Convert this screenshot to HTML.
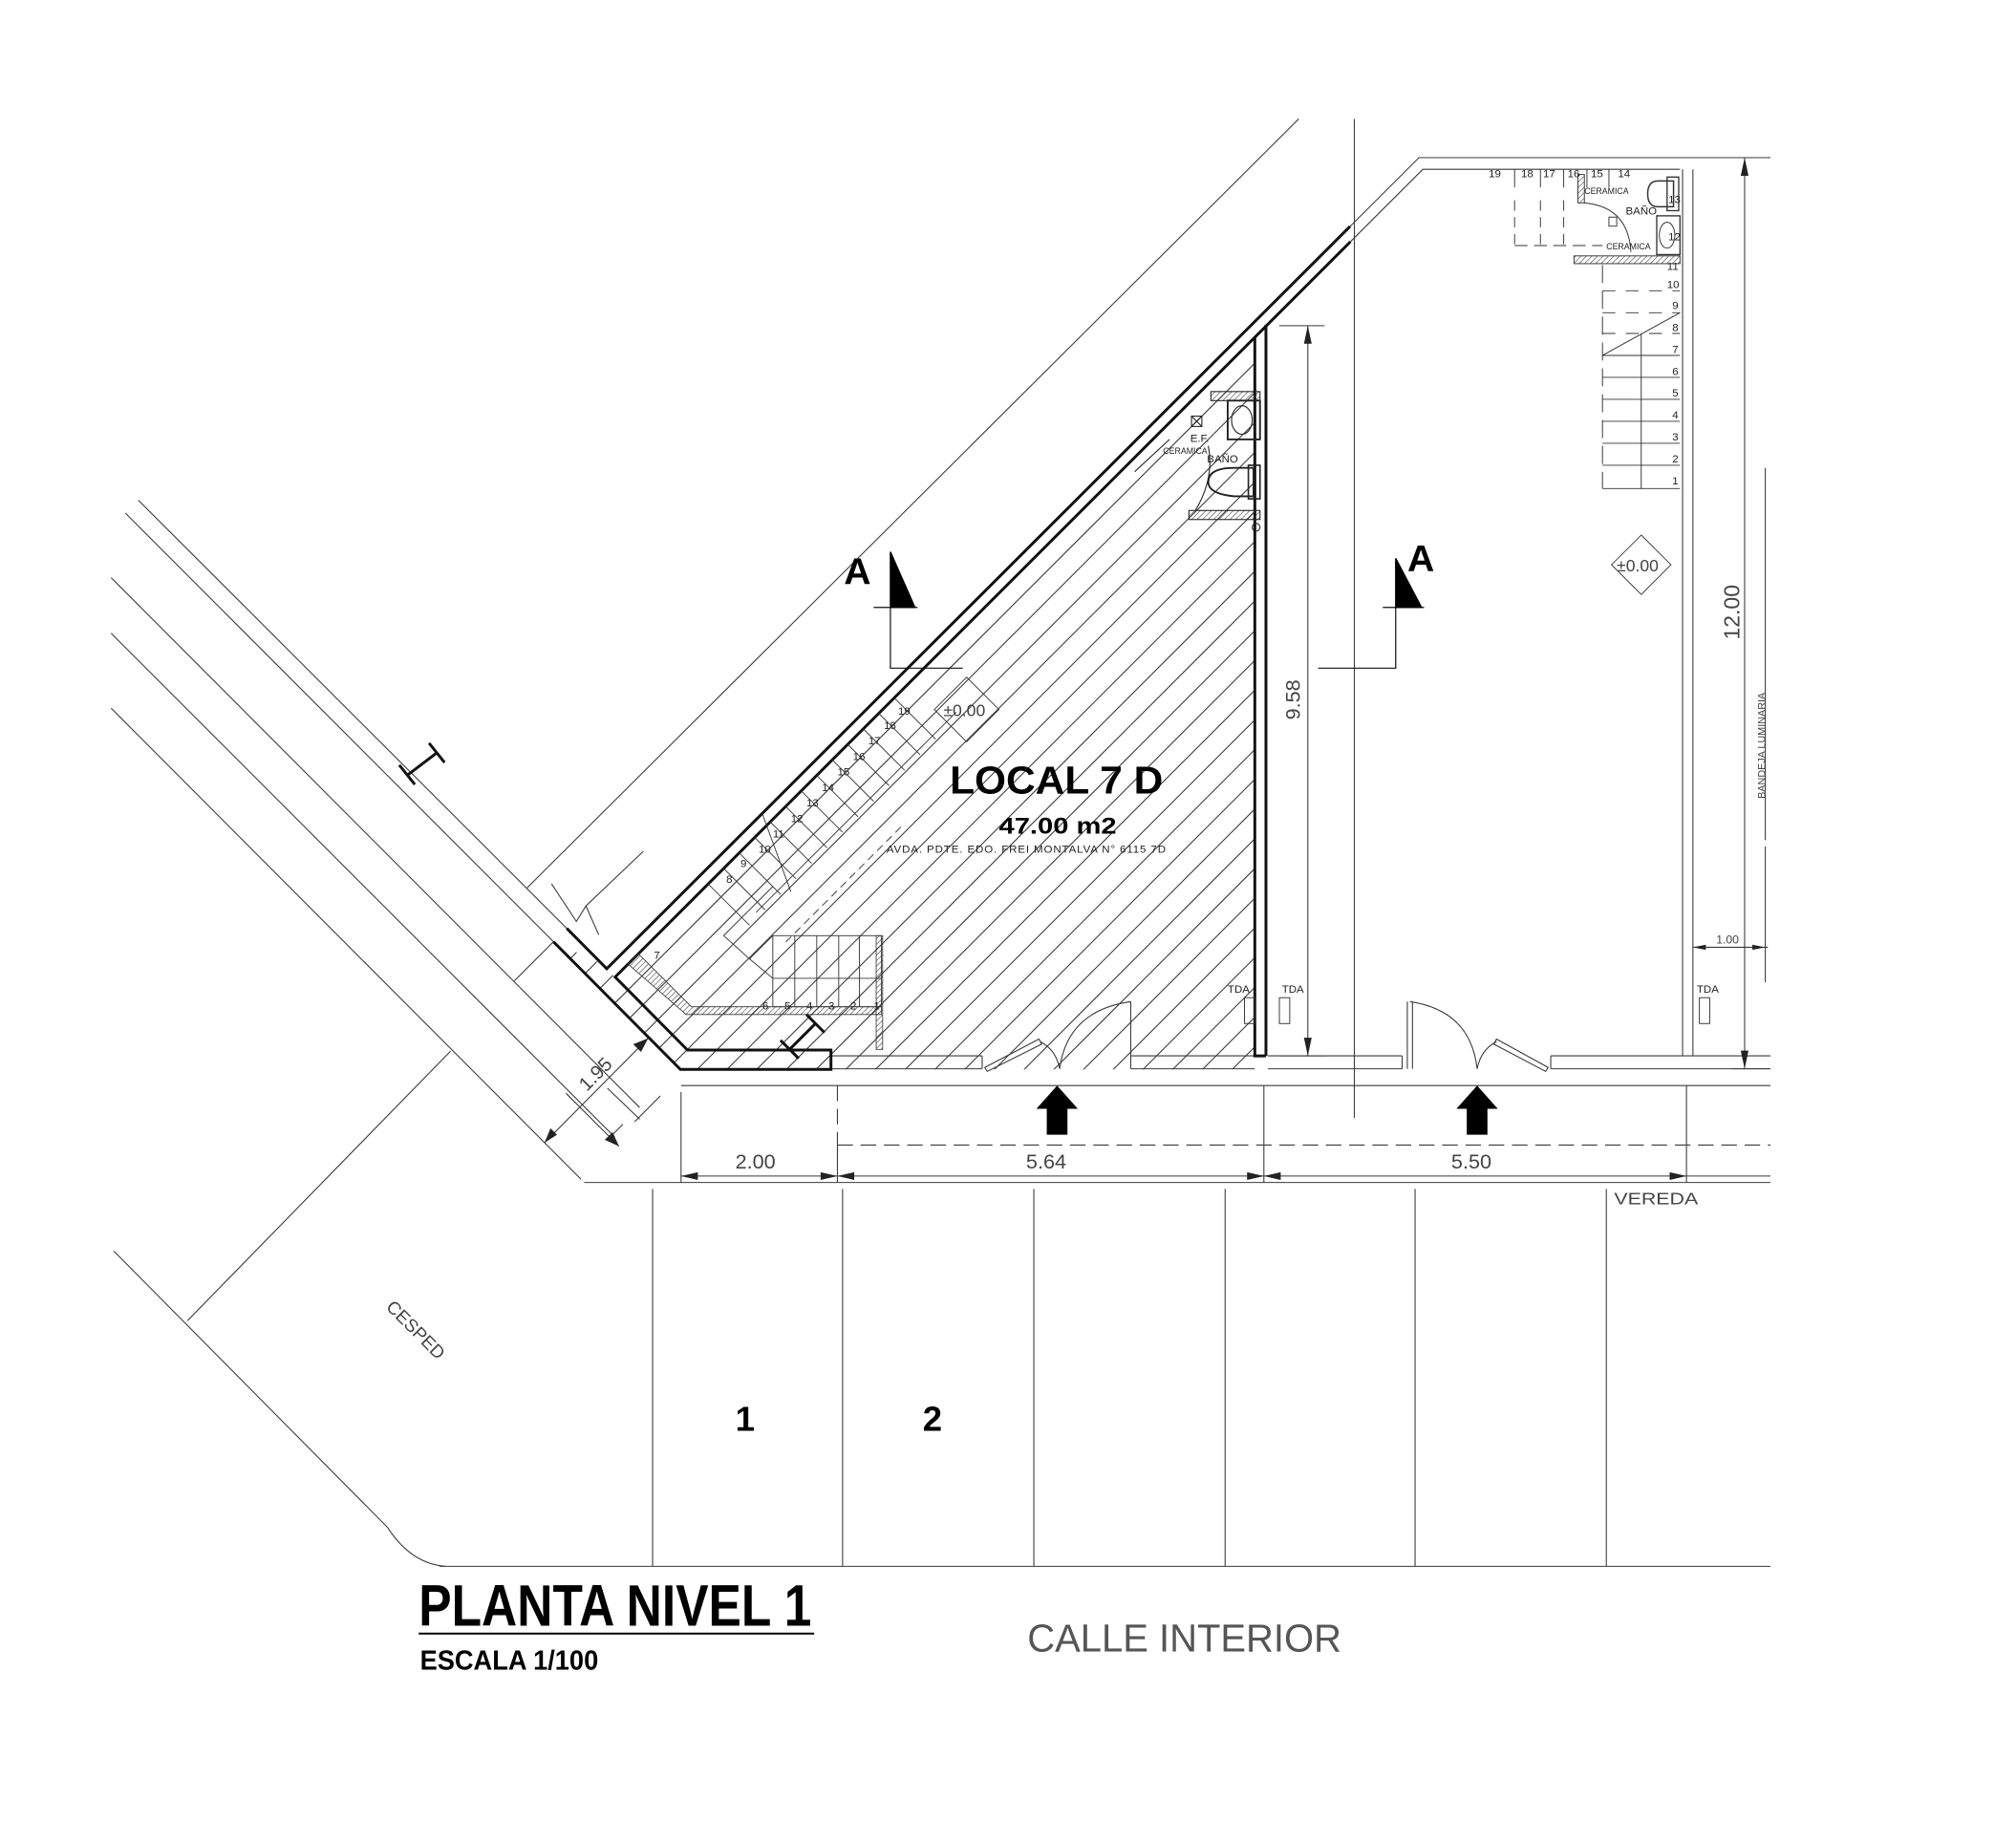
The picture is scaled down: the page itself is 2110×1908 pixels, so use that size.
<!DOCTYPE html>
<html><head><meta charset="utf-8"><style>
html,body{margin:0;padding:0;background:#fff}
svg{display:block}
text{font-family:"Liberation Sans",sans-serif}
</style></head><body>
<svg width="2110" height="1908" viewBox="0 0 1560 1410.6" preserveAspectRatio="none" xmlns="http://www.w3.org/2000/svg">
<defs>
<clipPath id="room"><polygon points="428.3,728.7 526.5,827.5 971,827.5 971,261 476,756 462,744"/></clipPath>
<pattern id="hp" width="3" height="3" patternUnits="userSpaceOnUse" patternTransform="rotate(45)"><line x1="0" y1="0" x2="0" y2="3" stroke="#333" stroke-width="0.8"/></pattern>
</defs>
<rect width="1560" height="1411" fill="#fff"/>
<g fill="none" stroke="#3a3a3a" stroke-width="0.8">
<!-- avenue lines -->
<line x1="107" y1="387" x2="438.6" y2="718.4"/>
<line x1="97" y1="397" x2="428.3" y2="728.7"/>
<line x1="86" y1="447" x2="495" y2="857"/>
<line x1="86" y1="490" x2="475.6" y2="879.8"/>
<line x1="86" y1="548" x2="449.7" y2="912.6"/>
<line x1="407.9" y1="687" x2="1005" y2="92"/>
<line x1="428.3" y1="728.7" x2="398" y2="759"/>
<line x1="348.7" y1="813.3" x2="145" y2="1022"/>
<path d="M88,968 L300,1182 Q318,1210 345,1212"/>
<polyline points="426.8,683.9 446,713 453.4,701 463.3,723.3"/>
<line x1="453.4" y1="701" x2="497.8" y2="658.7"/>
<!-- 1.95 dim -->
<line x1="421.4" y1="884.2" x2="501.5" y2="803.4"/>
<line x1="438" y1="846" x2="479" y2="887"/>
<line x1="471" y1="881" x2="482" y2="870"/>
<line x1="470" y1="842" x2="495" y2="866"/>
<line x1="491" y1="868" x2="511" y2="848"/>
<!-- top lines -->
<line x1="1048" y1="92" x2="1048" y2="865"/>
<polyline points="1044.7,175.2 1098,122 1370,122"/>
<polyline points="1045,187 1101,131 1300,131"/>
<line x1="971" y1="261" x2="479" y2="753"/>
<!-- right local walls -->
<line x1="1302" y1="131" x2="1302" y2="817"/>
<line x1="1310" y1="131" x2="1310" y2="817"/>
<line x1="1350" y1="122" x2="1350" y2="827"/>
<line x1="1340" y1="122" x2="1370" y2="122"/>
<line x1="1340" y1="827" x2="1370" y2="827"/>
<line x1="1366" y1="362" x2="1366" y2="650"/>
<line x1="1366" y1="655" x2="1366" y2="760"/>
<line x1="1310" y1="733" x2="1368" y2="733"/>
<!-- 9.58 dim -->
<line x1="1012" y1="252" x2="1012" y2="817"/>
<line x1="990" y1="252" x2="1025" y2="252"/>
<line x1="990" y1="817" x2="1025" y2="817"/>
<!-- bottom walls / doors -->
<line x1="643" y1="817" x2="760" y2="817"/><line x1="643" y1="827" x2="760" y2="827"/>
<line x1="875" y1="817" x2="971" y2="817"/><line x1="875" y1="827" x2="971" y2="827"/>
<line x1="981" y1="817" x2="1085" y2="817"/><line x1="981" y1="827" x2="1085" y2="827"/>
<line x1="1200" y1="817" x2="1370" y2="817"/><line x1="1200" y1="827" x2="1370" y2="827"/>
<line x1="760" y1="817" x2="760" y2="827"/><line x1="875" y1="775" x2="875" y2="827"/>
<line x1="1085" y1="817" x2="1085" y2="827"/><line x1="1200" y1="817" x2="1200" y2="827"/>
<polygon points="762,826 804,804 806,808 764,829"/>
<path d="M805,806 Q817,812 820,827"/>
<path d="M875,775 Q826,782 820,827"/>
<line x1="1089" y1="775" x2="1089" y2="827"/><line x1="1093" y1="775" x2="1093" y2="827"/>
<path d="M1091,775 Q1138,782 1143,827"/>
<polygon points="1198,826 1158,804 1156,808 1196,829"/>
<path d="M1158,806 Q1146,812 1143,827"/>
<!-- sidewalk/dims -->
<line x1="527" y1="840" x2="1370" y2="840"/>
<line x1="527" y1="845" x2="527" y2="915"/>
<line x1="648" y1="840" x2="648" y2="886" stroke-dasharray="12,6"/>
<line x1="648" y1="886" x2="1370" y2="886" stroke-dasharray="12,6"/>
<line x1="648" y1="886" x2="648" y2="915"/>
<line x1="978" y1="840" x2="978" y2="915"/>
<line x1="1305" y1="840" x2="1305" y2="915"/>
<line x1="527" y1="910" x2="1370" y2="910"/>
<line x1="452" y1="915" x2="1370" y2="915"/>
<line x1="340" y1="1212" x2="1370" y2="1212"/>
<line x1="505" y1="920" x2="505" y2="1212"/><line x1="652" y1="920" x2="652" y2="1212"/>
<line x1="800" y1="920" x2="800" y2="1212"/><line x1="948" y1="920" x2="948" y2="1212"/>
<line x1="1095" y1="920" x2="1095" y2="1212"/><line x1="1243" y1="920" x2="1243" y2="1212"/>
</g>
<!-- dim arrows -->
<g fill="#222">
<polygon points="527,910 540,907 540,913"/><polygon points="648,910 635,907 635,913"/>
<polygon points="648,910 661,907 661,913"/><polygon points="978,910 965,907 965,913"/>
<polygon points="978,910 991,907 991,913"/><polygon points="1305,910 1292,907 1292,913"/>
<polygon points="1012,252 1009,266 1015,266"/><polygon points="1012,817 1009,803 1015,803"/>
<polygon points="1350,122 1347,136 1353,136"/><polygon points="1350,827 1347,813 1353,813"/>
<polygon points="1310,733 1320,731 1320,735"/><polygon points="1366,733 1356,731 1356,735"/>
<polygon points="421.4,884.2 426,873 431,878"/><polygon points="501.5,803.4 490,808 496,814"/>
<polygon points="479,887 468,882 474,876"/>
</g>
<!-- hatch -->
<g clip-path="url(#room)" stroke="#3a3a3a" stroke-width="0.8">
<line x1="260" y1="900" x2="1060" y2="100"/><line x1="283" y1="900" x2="1083" y2="100"/>
<line x1="306" y1="900" x2="1106" y2="100"/><line x1="329" y1="900" x2="1129" y2="100"/>
<line x1="352" y1="900" x2="1152" y2="100"/><line x1="375" y1="900" x2="1175" y2="100"/>
<line x1="398" y1="900" x2="1198" y2="100"/><line x1="421" y1="900" x2="1221" y2="100"/>
<line x1="444" y1="900" x2="1244" y2="100"/><line x1="467" y1="900" x2="1267" y2="100"/>
<line x1="490" y1="900" x2="1290" y2="100"/><line x1="513" y1="900" x2="1313" y2="100"/>
<line x1="536" y1="900" x2="1336" y2="100"/><line x1="559" y1="900" x2="1359" y2="100"/>
<line x1="582" y1="900" x2="1382" y2="100"/><line x1="605" y1="900" x2="1405" y2="100"/>
<line x1="628" y1="900" x2="1428" y2="100"/><line x1="651" y1="900" x2="1451" y2="100"/>
<line x1="674" y1="900" x2="1474" y2="100"/><line x1="697" y1="900" x2="1497" y2="100"/>
<line x1="720" y1="900" x2="1520" y2="100"/><line x1="743" y1="900" x2="1543" y2="100"/>
<line x1="766" y1="900" x2="1566" y2="100"/><line x1="789" y1="900" x2="1589" y2="100"/>
<line x1="812" y1="900" x2="1612" y2="100"/><line x1="835" y1="900" x2="1635" y2="100"/>
<line x1="858" y1="900" x2="1658" y2="100"/><line x1="881" y1="900" x2="1681" y2="100"/>
<line x1="904" y1="900" x2="1704" y2="100"/><line x1="927" y1="900" x2="1727" y2="100"/>
<line x1="950" y1="900" x2="1750" y2="100"/>
</g>
<!-- thick walls -->
<g fill="none" stroke="#111" stroke-width="2.2">
<polyline points="438.6,718.4 469.5,749.6 1044.7,175.2"/>
<polyline points="428.3,728.7 526.5,827.5 643,827.5 643,812.5 532,812.5 476,756 1045,187"/>
<line x1="979.6" y1="251.4" x2="979.6" y2="817"/>
<polyline points="971,261 971,817 979.6,817"/>
<line x1="315" y1="600" x2="338" y2="582.5"/><line x1="309" y1="592" x2="321" y2="607"/><line x1="332" y1="575" x2="344" y2="590"/>
<line x1="611" y1="812" x2="631" y2="792"/><line x1="604" y1="805" x2="618" y2="819"/><line x1="624" y1="785" x2="638" y2="799"/>
</g>
<!-- left stairs -->
<polygon points="486,746 531,785 682,785 682,779 535,779 494,738" fill="url(#hp)" stroke="#333" stroke-width="0.6"/>
<rect x="678" y="724" width="5" height="88" fill="url(#hp)" stroke="#333" stroke-width="0.6"/>
<g fill="none" stroke="#3a3a3a" stroke-width="0.7">
<rect x="598" y="724" width="84" height="55"/>
<line x1="598" y1="757" x2="682" y2="757"/>
<line x1="615" y1="724" x2="615" y2="779"/><line x1="632" y1="724" x2="632" y2="779"/>
<line x1="649" y1="724" x2="649" y2="779"/><line x1="665" y1="724" x2="665" y2="779"/>
<polyline points="598,724 580,742 560,724 598,686"/>
<line x1="580" y1="742" x2="598" y2="757"/>
<line x1="585" y1="706" x2="740" y2="551"/>
<line x1="608" y1="729" x2="700" y2="637" stroke-dasharray="6,4"/>
<line x1="548" y1="684" x2="580" y2="716"/><line x1="560" y1="672" x2="592" y2="704"/>
<line x1="572" y1="660" x2="604" y2="692"/><line x1="584" y1="648" x2="616" y2="680"/>
<line x1="596" y1="636" x2="628" y2="668"/><line x1="608" y1="624" x2="640" y2="656"/>
<line x1="620" y1="612" x2="652" y2="644"/><line x1="632" y1="600" x2="664" y2="632"/>
<line x1="644" y1="588" x2="676" y2="620"/><line x1="656" y1="576" x2="688" y2="608"/>
<line x1="668" y1="564" x2="700" y2="596"/><line x1="680" y1="552" x2="712" y2="584"/>
<line x1="692" y1="540" x2="724" y2="572"/>
<line x1="590" y1="630" x2="612" y2="690"/>
<polygon points="748,524 773,549 748,574 723,549"/>
<polygon points="1270,414 1293,437 1270,460 1247,437"/>
</g>
<!-- left bathroom -->
<g fill="none" stroke="#222" stroke-width="0.8">
<rect x="937" y="303" width="38" height="7" fill="url(#hp)"/>
<rect x="920" y="395" width="55" height="7" fill="url(#hp)"/>
<rect x="950" y="310" width="25" height="30" stroke-width="1.4"/>
<ellipse cx="961" cy="325" rx="8" ry="11"/>
<path d="M955,362 L970,362 L970,384 L955,384 Q935,382 935,373 Q935,362 955,362 Z" stroke-width="1.4"/>
<rect x="966" y="360" width="9" height="26" stroke-width="1.2"/>
<rect x="922" y="322" width="8" height="8"/><line x1="922" y1="322" x2="930" y2="330"/><line x1="930" y1="322" x2="922" y2="330"/>
<path d="M935,345 Q940,370 925,395"/>
<line x1="878" y1="365" x2="905" y2="340"/>
<circle cx="972" cy="408" r="3"/>
</g>
<!-- right bathroom & stairs -->
<g fill="none" stroke="#333" stroke-width="0.7">
<line x1="1172" y1="131" x2="1172" y2="145"/><line x1="1192" y1="131" x2="1192" y2="145"/>
<line x1="1210" y1="131" x2="1210" y2="145"/><line x1="1228" y1="131" x2="1228" y2="145"/>
<line x1="1245" y1="131" x2="1245" y2="145"/>
<line x1="1172" y1="155" x2="1172" y2="190" stroke-dasharray="8,5"/><line x1="1192" y1="155" x2="1192" y2="190" stroke-dasharray="8,5"/>
<line x1="1210" y1="155" x2="1210" y2="190" stroke-dasharray="8,5"/>
<line x1="1172" y1="190" x2="1240" y2="190" stroke-dasharray="10,5"/>
<rect x="1218" y="198" width="82" height="6" fill="url(#hp)"/>
<rect x="1221" y="135" width="5" height="22" fill="url(#hp)"/>
<path d="M1295,140 L1283,140 Q1275,140 1275,150 Q1275,160 1283,160 L1295,160 Z" stroke-width="1.1"/>
<rect x="1290" y="137" width="9" height="26" stroke-width="1"/>
<rect x="1282" y="167" width="18" height="30" stroke-width="1"/>
<ellipse cx="1290" cy="182" rx="6" ry="10"/>
<path d="M1226,157 Q1260,160 1262,195"/>
<rect x="1245" y="168" width="6" height="7"/>
<line x1="1240" y1="205" x2="1240" y2="378" stroke-dasharray="14,6"/>
<line x1="1270" y1="258" x2="1270" y2="378"/>
<line x1="1240" y1="225" x2="1300" y2="225" stroke-dasharray="10,8"/>
<line x1="1240" y1="242" x2="1300" y2="242" stroke-dasharray="10,8"/>
<line x1="1240" y1="258" x2="1300" y2="258" stroke-dasharray="10,8"/>
<line x1="1240" y1="275" x2="1300" y2="242"/>
<line x1="1240" y1="275" x2="1300" y2="275"/><line x1="1240" y1="292" x2="1300" y2="292"/>
<line x1="1240" y1="309" x2="1300" y2="309"/><line x1="1240" y1="326" x2="1300" y2="326"/>
<line x1="1240" y1="343" x2="1300" y2="343"/><line x1="1240" y1="360" x2="1300" y2="360"/>
<line x1="1240" y1="378" x2="1300" y2="378"/>
<rect x="963" y="772" width="8" height="20"/><rect x="990" y="772" width="8" height="20"/>
<rect x="1315" y="772" width="8" height="20"/>
</g>
<!-- section markers -->
<g stroke="#111" stroke-width="0.9" fill="none">
<polyline points="689,470 689,517 745,517"/><line x1="676" y1="470" x2="710" y2="470"/>
<polyline points="1080,470 1080,517 1020,517"/><line x1="1070" y1="470" x2="1102" y2="470"/>
</g>
<polygon points="689,427 689,470 708,470" fill="#000" stroke="#000"/>
<polygon points="1080,432 1080,470 1100,470" fill="#000" stroke="#000"/>
<!-- up arrows -->
<polygon points="818,840 834,858 826,858 826,878 810,878 810,858 802,858" fill="#000"/>
<polygon points="1143,840 1159,858 1151,858 1151,878 1135,878 1135,858 1127,858" fill="#000"/>
<!-- text -->
<g fill="#000" font-weight="bold">
<text x="653" y="452" font-size="29">A</text>
<text x="1089" y="442" font-size="29">A</text>
<text x="735" y="614" font-size="30" textLength="165" lengthAdjust="spacingAndGlyphs">LOCAL 7 D</text>
<text x="773" y="645" font-size="18" textLength="91" lengthAdjust="spacingAndGlyphs">47.00 m2</text>
<text x="569" y="1107" font-size="27">1</text>
<text x="714" y="1107" font-size="27">2</text>
<text x="324" y="1258" font-size="45" textLength="304" lengthAdjust="spacingAndGlyphs">PLANTA NIVEL 1</text>
<text x="325" y="1292" font-size="21" textLength="138" lengthAdjust="spacingAndGlyphs">ESCALA 1/100</text>
</g>
<line x1="324" y1="1264" x2="630" y2="1264" stroke="#000" stroke-width="1.5"/>
<g fill="#444" font-size="16">
<text x="569" y="904">2.00</text>
<text x="794" y="904">5.64</text>
<text x="1123" y="904">5.50</text>
<text x="1249" y="932" font-size="13" textLength="65" lengthAdjust="spacingAndGlyphs">VEREDA</text>
<text x="795" y="1278" font-size="30" font-weight="normal" fill="#555" textLength="243" lengthAdjust="spacingAndGlyphs" style="font-weight:300">CALLE INTERIOR</text>
<text x="0" y="0" font-size="14" transform="translate(298,1012) rotate(45)">CESPED</text>
<text x="0" y="0" font-size="16" transform="translate(1006,557) rotate(-90)">9.58</text>
<text x="0" y="0" font-size="17" transform="translate(1346,495) rotate(-90)">12.00</text>
<text x="0" y="0" font-size="8" transform="translate(1366,618) rotate(-90)">BANDEJA LUMINARIA</text>
<text x="1328" y="730" font-size="9">1.00</text>
<text x="0" y="0" font-size="15" transform="translate(454,845) rotate(-45)">1.95</text>
<text x="730" y="554" font-size="13">±0.00</text>
<text x="1251" y="442" font-size="13">±0.00</text>
</g>
<g fill="#222" font-size="8.5">
<text x="686" y="660" font-size="8.5" textLength="216" lengthAdjust="spacing">AVDA. PDTE. EDO. FREI MONTALVA N° 6115 7D</text>
<text x="506" y="742">7</text><text x="562" y="683">8</text><text x="573" y="671">9</text>
<text x="587" y="660">10</text><text x="598" y="648">11</text><text x="612" y="636">12</text>
<text x="624" y="624">13</text><text x="636" y="612">14</text><text x="648" y="600">15</text>
<text x="660" y="588">16</text><text x="672" y="576">17</text><text x="684" y="564">18</text>
<text x="695" y="553">19</text>
<text x="590" y="781">6</text><text x="607" y="781">5</text><text x="624" y="781">4</text>
<text x="641" y="781">3</text><text x="658" y="781">2</text><text x="676" y="781">1</text>
<text x="950" y="768">TDA</text><text x="992" y="768">TDA</text><text x="1313" y="768">TDA</text>
<text x="921" y="342">E.F.</text><text x="900" y="351" font-size="6.5">CERAMICA</text><text x="934" y="358">BAÑO</text>
<text x="1152" y="137">19</text><text x="1177" y="137">18</text><text x="1194" y="137">17</text>
<text x="1213" y="137">16</text><text x="1231" y="137">15</text><text x="1252" y="137">14</text>
<text x="1226" y="150" font-size="6.5">CERAMICA</text><text x="1258" y="166">BAÑO</text>
<text x="1243" y="193" font-size="6.5">CERAMICA</text>
<text x="1291" y="157">13</text><text x="1291" y="186">12</text>
<text x="1290" y="209">11</text><text x="1290" y="223">10</text>
<text x="1294" y="239">9</text><text x="1294" y="256">8</text><text x="1294" y="273">7</text>
<text x="1294" y="290">6</text><text x="1294" y="307">5</text><text x="1294" y="324">4</text>
<text x="1294" y="341">3</text><text x="1294" y="358">2</text><text x="1294" y="375">1</text>
</g>
</svg>
</body></html>
